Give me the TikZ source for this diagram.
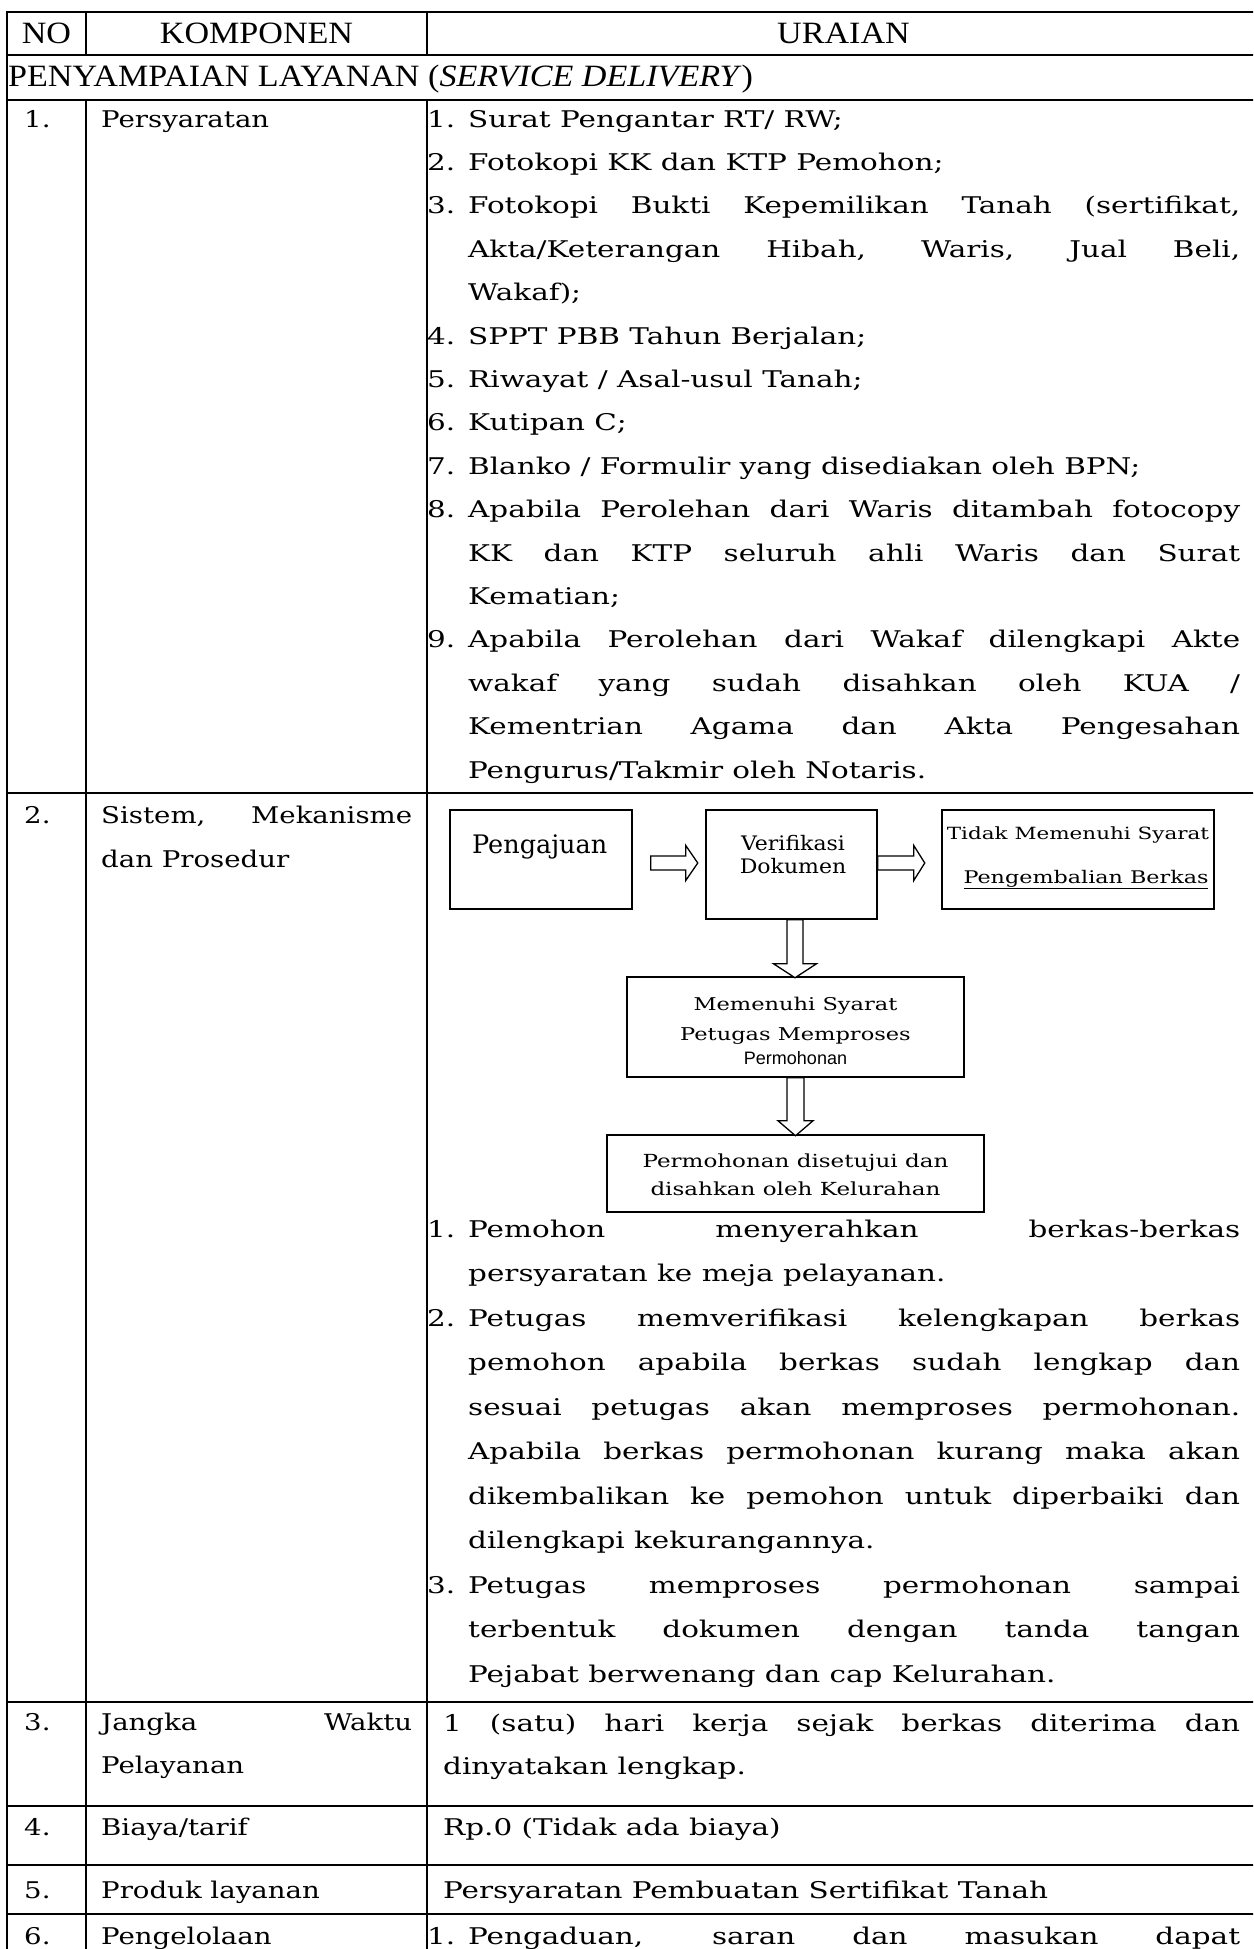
\documentclass[tikz,border=0pt]{standalone}
\usepackage{fontspec}
\usetikzlibrary{calc}
\newfontfamily\bk[FakeStretch=1.28]{DejaVu Serif}
\newfontfamily\bkk[FakeStretch=1.2]{DejaVu Serif}
\newfontfamily\bkm[FakeStretch=1.1]{DejaVu Serif}
\newfontfamily\bkp{DejaVu Serif}
\newfontfamily\tms[FakeStretch=1.1]{Liberation Serif}
\newfontfamily\ars{Liberation Sans}
\newcommand\parsetup{\tolerance=10000 \hbadness=10000 \hyphenpenalty=10000 \exhyphenpenalty=10000 \parindent=0pt \parskip=0pt}
\newcommand\itm[2]{\par\hangindent=41pt\hangafter=1\noindent\makebox[41pt][l]{#1}#2\par}
% #1 start, #2 length, #3 head length, #4 shaft half width, #5 head half width
\newcommand\arrR[5]{\draw[hollow, shift={(#1)}] (0,-#4) -- ({#2-#3},-#4) -- ({#2-#3},-#5) -- (#2,0) -- ({#2-#3},#5) -- ({#2-#3},#4) -- (0,#4) -- cycle;}
\newcommand\arrD[5]{\draw[hollow, shift={(#1)}] (-#4,0) -- (-#4,{#2-#3}) -- (-#5,{#2-#3}) -- (0,#2) -- (#5,{#2-#3}) -- (#4,{#2-#3}) -- (#4,0) -- cycle;}
\tikzset{
  tbl/.style={line width=1.6pt, line cap=rect},
  box/.style={draw, line width=1.5pt, inner sep=0pt},
  hollow/.style={draw, line width=1.3pt, fill=white, line join=miter},
  txt/.style={inner sep=0pt, anchor=base west},
  ctxt/.style={inner sep=0pt, anchor=base},
  head/.style={font={\tms\fontsize{31}{36}\selectfont}},
  body/.style={font={\bk\fontsize{23}{43.4}\selectfont}},
  komp/.style={font={\bkk\fontsize{23}{43.4}\selectfont}}
}
\begin{document}
\begin{tikzpicture}[x=1pt,y=-1pt]
\useasboundingbox (0,0) rectangle (1253,1949);
\clip (0,0) rectangle (1253,1949);
\fill[white] (0,0) rectangle (1253,1949);

% ---------- table rules ----------
\foreach \yy in {12,55,100,793,1702,1806,1865,1914}
  \draw[tbl] (7,\yy) -- (1265,\yy);
\draw[tbl] (7,12) -- (7,1960);
\draw[tbl] (86,12) -- (86,55);
\draw[tbl] (86,100) -- (86,1960);
\draw[tbl] (427,12) -- (427,55);
\draw[tbl] (427,100) -- (427,1960);

% ---------- header ----------
\node[ctxt, head] (hno) at (46.5,43) {NO};
\node[ctxt, head] (hkomp) at (256.5,43) {KOMPONEN};
\node[ctxt, head] (hur) at (843.5,43) {URAIAN};
\node[txt, head] (hsec) at (8,86) {PENYAMPAIAN LAYANAN (\textit{SERVICE DELIVERY})};

% ---------- NO column ----------
\node[txt, komp] (n1) at (24,127) {1.};
\node[txt, komp] (n2) at (24,823) {2.};
\node[txt, komp] (n3) at (24,1730) {3.};
\node[txt, komp] (n4) at (24,1835) {4.};
\node[txt, komp] (n5) at (24,1898) {5.};
\node[txt, komp] (n6) at (24,1944) {6.};

% ---------- KOMPONEN column ----------
\node[txt, komp] (k1) at (101,127) {Persyaratan};
\node[txt] (k2) at (101,823) {\parbox[t]{311pt}{\bkk\fontsize{23}{44}\selectfont\parsetup
  Sistem, Mekanisme\linebreak dan Prosedur}};
\node[txt] (k3) at (101,1730) {\parbox[t]{311pt}{\bkk\fontsize{23}{43}\selectfont\parsetup
  Jangka Waktu\linebreak Pelayanan}};
\node[txt, komp] (k4) at (101,1835) {Biaya/tarif};
\node[txt, komp] (k5) at (101,1898) {Produk layanan};
\node[txt, komp] (k6) at (101,1944) {Pengelolaan};

% ---------- URAIAN row 1 ----------
\node[txt] (u1) at (427,127) {\parbox[t]{813pt}{\bk\fontsize{23}{43.4}\selectfont\parsetup
\itm{1.}{Surat Pengantar RT/ RW;}
\itm{2.}{Fotokopi KK dan KTP Pemohon;}
\itm{3.}{Fotokopi Bukti Kepemilikan Tanah (sertifikat,\linebreak Akta/Keterangan Hibah, Waris, Jual Beli,\linebreak Wakaf);}
\itm{4.}{SPPT PBB Tahun Berjalan;}
\itm{5.}{Riwayat / Asal-usul Tanah;}
\itm{6.}{Kutipan C;}
\itm{7.}{Blanko / Formulir yang disediakan oleh BPN;}
\itm{8.}{Apabila Perolehan dari Waris ditambah fotocopy\linebreak KK dan KTP seluruh ahli Waris dan Surat\linebreak Kematian;}
\itm{9.}{Apabila Perolehan dari Wakaf dilengkapi Akte\linebreak wakaf yang sudah disahkan oleh KUA /\linebreak Kementrian Agama dan Akta Pengesahan\linebreak Pengurus/Takmir oleh Notaris.}
}};

% ---------- URAIAN row 2 : flow chart ----------
\node[box, minimum width=182pt, minimum height=99pt] (peng) at (541,859.5) {};
\node[box, minimum width=171pt, minimum height=109pt] (verif) at (791.5,864.5) {};
\node[box, minimum width=272pt, minimum height=99pt] (tidak) at (1078,859.5) {};
\node[box, minimum width=337pt, minimum height=100pt] (memen) at (795.5,1027) {};
\node[box, minimum width=377pt, minimum height=77pt] (setuju) at (795.5,1173.5) {};

\node[txt, font={\bkp\fontsize{25.5}{28}\selectfont}] (pengt) at (472,853) {Pengajuan};
\node[ctxt, font={\bkm\fontsize{20}{23}\selectfont}] (verift1) at (793,850) {Verifikasi};
\node[ctxt, font={\bkm\fontsize{20}{23}\selectfont}] (verift2) at (793,873) {Dokumen};
\node[ctxt, font={\bk\fontsize{16.8}{20}\selectfont}] (tidakt1) at (1078,839) {Tidak Memenuhi Syarat};
\node[ctxt, font={\bk\fontsize{17.4}{20}\selectfont}] (tidakt2) at (1086,883) {\underline{Pengembalian Berkas}};
\node[ctxt, font={\bk\fontsize{17.6}{22}\selectfont}] (ment1) at (795.5,1010) {Memenuhi Syarat};
\node[ctxt, font={\bk\fontsize{17.6}{22}\selectfont}] (ment2) at (795.5,1040) {Petugas Memproses};
\node[ctxt, font={\ars\fontsize{18}{22}\selectfont}] (ment3) at (795.5,1064) {Permohonan};
\node[ctxt, font={\bk\fontsize{18}{22}\selectfont}] (sett1) at (795.5,1167) {Permohonan disetujui dan};
\node[ctxt, font={\bk\fontsize{18}{22}\selectfont}] (sett2) at (795.5,1195) {disahkan oleh Kelurahan};

\coordinate (a1) at ($(peng.east)+(18,3.5)$);
\coordinate (a2) at ($(verif.east)+(0,-1.5)$);
\coordinate (d1) at ($(verif.south)+(3.5,0)$);
\coordinate (d2) at (memen.south);
\arrR{a1}{47}{12}{7}{17.5}
\arrR{a2}{47}{11}{7}{17.5}
\arrD{d1}{58}{14}{8}{21.5}
\arrD{d2}{58}{15}{8.5}{17.5}

% ---------- URAIAN row 2 : text ----------
\node[txt] (u2) at (427,1237) {\parbox[t]{813pt}{\bk\fontsize{23}{44.5}\selectfont\parsetup
\itm{1.}{Pemohon menyerahkan berkas-berkas\linebreak persyaratan ke meja pelayanan.}
\itm{2.}{Petugas memverifikasi kelengkapan berkas\linebreak pemohon apabila berkas sudah lengkap dan\linebreak sesuai petugas akan memproses permohonan.\linebreak Apabila berkas permohonan kurang maka akan\linebreak dikembalikan ke pemohon untuk diperbaiki dan\linebreak dilengkapi kekurangannya.}
\itm{3.}{Petugas memproses permohonan sampai\linebreak terbentuk dokumen dengan tanda tangan\linebreak Pejabat berwenang dan cap Kelurahan.}
}};

% ---------- URAIAN rows 3-6 ----------
\node[txt] (u3) at (443,1731) {\parbox[t]{797pt}{\bk\fontsize{23}{43}\selectfont\parsetup
1 (satu) hari kerja sejak berkas diterima dan\linebreak dinyatakan lengkap.}};
\node[txt, body] (u4) at (443,1835) {Rp.0 (Tidak ada biaya)};
\node[txt, body] (u5) at (443,1898) {Persyaratan Pembuatan Sertifikat Tanah};
\node[txt, body] (u6) at (427,1944) {\makebox[41pt][l]{1.}\makebox[772pt][s]{Pengaduan, saran dan masukan dapat}};
\end{tikzpicture}
\end{document}
